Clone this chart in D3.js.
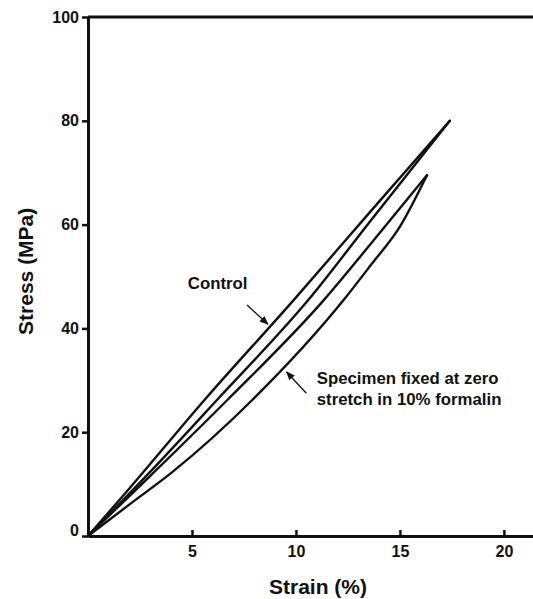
<!DOCTYPE html>
<html>
<head>
<meta charset="utf-8">
<script src="https://cdn.jsdelivr.net/npm/d3@7"></script>
<style>
  body { margin: 0; background: #fff; }
  svg text { font-family: "Liberation Sans", Arial, sans-serif; font-weight: bold; fill: #111; }
</style>
</head>
<body>
<div class="chart"></div>
<script>
// stress-strain curves, [strain %, stress MPa]
const controlLoad = [[0, 0], [2, 9.2], [5.6, 26.2], [9.9, 45.5], [13.6, 62.6], [17.4, 80]];
const controlUnload = [[0, 0], [3, 12.4], [6.2, 26.2], [10.6, 45.5], [13.6, 60.8], [17.4, 80]];
const fixedLoad = [[0, 0], [3, 11.6], [6.7, 26.2], [11.35, 45.5], [13.6, 56.3], [16.3, 69.5]];
const fixedUnload = [[0, 0], [2, 6.1], [4.05, 12.3], [7.9, 26.2], [12.3, 45.5], [13.6, 52.2], [15.0, 59.6], [16.3, 69.5]];

const xTicks = [5, 10, 15, 20];
const yTicks = [0, 20, 40, 60, 80, 100];

// annotations: label lines, arrow tail/tip in data units
const notes = [
    { lines: ['Control'], text: [4.8, 47.5], tail: [7.65, 44.5], tip: [8.65, 40.8] },
    { lines: ['Specimen fixed at zero', 'stretch in 10% formalin'], text: [11.0, 29.2], tail: [10.5, 27.5], tip: [9.55, 31.6] }
];

const width = 533, height = 599;
const margin = { top: 17, right: 0, bottom: 63, left: 88 };

const svg = d3.select(document.querySelector('.chart'))
    .append('svg')
    .attr('width', width)
    .attr('height', height);

const x = d3.scaleLinear()
    .domain([0, 21.4])
    .range([margin.left, width - margin.right]);
const y = d3.scaleLinear()
    .domain([0, 100])
    .range([height - margin.bottom, margin.top]);

// frame: top line
svg.append('line')
    .attr('x1', x(0)).attr('x2', x(21.4))
    .attr('y1', y(100)).attr('y2', y(100))
    .style('stroke', '#111').style('stroke-width', 3);

const xaxis = svg.append('g')
    .attr('class', 'xaxis')
    .attr('transform', `translate(0, ${y(0)})`)
    .call(d3.axisBottom(x).tickValues(xTicks).tickFormat(d3.format('d'))
        .tickSizeInner(-6).tickSizeOuter(0).tickPadding(10));
xaxis.select('.domain').style('stroke', '#111').style('stroke-width', 3);
xaxis.selectAll('.tick line').style('stroke', '#111').style('stroke-width', 2.5);
xaxis.selectAll('.tick text').style('font-size', '16px');

const yaxis = svg.append('g')
    .attr('class', 'yaxis')
    .attr('transform', `translate(${x(0)}, 0)`)
    .call(d3.axisLeft(y).tickValues(yTicks).tickFormat(d3.format('d'))
        .tickSizeInner(6).tickSizeOuter(0).tickPadding(3));
yaxis.select('.domain').style('stroke', '#111').style('stroke-width', 3);
yaxis.selectAll('.tick line').style('stroke', '#111').style('stroke-width', 2.5);
yaxis.selectAll('.tick text').style('font-size', '16px');
yaxis.selectAll('.tick text').filter(d => d === 0).attr('dy', '-0.05em');

// axis titles
svg.append('text')
    .attr('x', 318).attr('y', 594)
    .attr('text-anchor', 'middle')
    .style('font-size', '21px')
    .text('Strain (%)');
svg.append('text')
    .attr('transform', `translate(33, ${y(51)}) rotate(-90)`)
    .attr('text-anchor', 'middle')
    .style('font-size', '21px')
    .text('Stress (MPa)');

// curves
const line = d3.line()
    .x(d => x(d[0]))
    .y(d => y(d[1]))
    .curve(d3.curveMonotoneX);

svg.append('g').attr('class', 'lines')
    .selectAll('path')
    .data([controlLoad, controlUnload, fixedLoad, fixedUnload])
    .enter()
    .append('path')
    .attr('d', d => line(d))
    .style('fill', 'none')
    .style('stroke', '#111')
    .style('stroke-width', 2.4)
    .style('stroke-linejoin', 'round')
    .style('stroke-linecap', 'round');

// arrows + labels
svg.append('defs').append('marker')
    .attr('id', 'arrow')
    .attr('viewBox', '0 0 10 10')
    .attr('refX', 9).attr('refY', 5)
    .attr('markerWidth', 9).attr('markerHeight', 9)
    .attr('markerUnits', 'userSpaceOnUse')
    .attr('orient', 'auto')
    .append('path')
    .attr('d', 'M0,1 L10,5 L0,9 Z')
    .style('fill', '#111');

const ann = svg.append('g').attr('class', 'notes');
notes.forEach(n => {
    ann.append('line')
        .attr('x1', x(n.tail[0])).attr('y1', y(n.tail[1]))
        .attr('x2', x(n.tip[0])).attr('y2', y(n.tip[1]))
        .style('stroke', '#111').style('stroke-width', 1.3)
        .attr('marker-end', 'url(#arrow)');
    const t = ann.append('text')
        .attr('x', x(n.text[0])).attr('y', y(n.text[1]))
        .style('font-size', '16.8px');
    n.lines.forEach((s, i) => {
        t.append('tspan')
            .attr('x', x(n.text[0]))
            .attr('dy', i === 0 ? 0 : 21)
            .text(s);
    });
});
</script>
</body>
</html>
